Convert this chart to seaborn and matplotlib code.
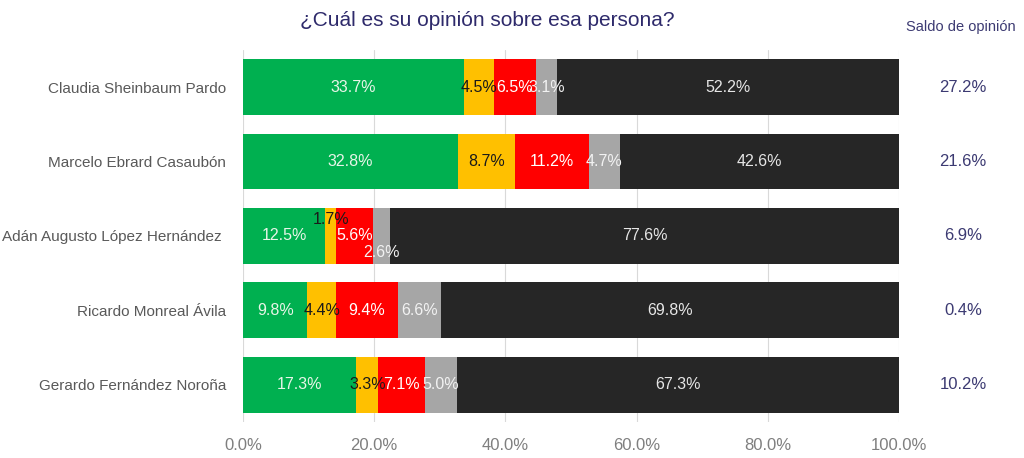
import matplotlib
matplotlib.use("Agg")
import matplotlib.pyplot as plt
import matplotlib.transforms as mtransforms
import seaborn as sns
import pandas as pd
import numpy as np

candidates = ["Claudia Sheinbaum Pardo", "Marcelo Ebrard Casaubón",
              "Adán Augusto López Hernández ", "Ricardo Monreal Ávila",
              "Gerardo Fernández Noroña"]
seg_green = [33.7, 32.8, 12.5, 9.8, 17.3]
seg_yellow = [4.5, 8.7, 1.7, 4.4, 3.3]
seg_red = [6.5, 11.2, 5.6, 9.4, 7.1]
seg_gray = [3.1, 4.7, 2.6, 6.6, 5.0]
seg_black = [52.2, 42.6, 77.6, 69.8, 67.3]
saldo = [27.2, 21.6, 6.9, 0.4, 10.2]
xticks = [0, 20, 40, 60, 80, 100]

segments = [seg_green, seg_yellow, seg_red, seg_gray, seg_black]
colors = ["#00B050", "#FFC000", "#FF0000", "#A6A6A6", "#262626"]
text_colors = ["#E8F5E8", "#1A1A1A", "#FFFFFF", "#F2F2F2", "#E6E6E6"]

sns.set_theme(style="white")
plt.rcParams['font.family'] = ['Liberation Sans', 'DejaVu Sans']

fig = plt.figure(figsize=(10.24, 4.58), dpi=100)
ax = fig.add_axes([0.2373, 0.079, 0.6406, 0.812])

vals = np.array(segments)  # shape (5 segments, n candidates)
cum = np.cumsum(vals, axis=0)

# draw cumulative bars from longest to shortest so they stack
for i in range(len(segments) - 1, -1, -1):
    df = pd.DataFrame({"cand": candidates, "val": cum[i]})
    sns.barplot(data=df, x="val", y="cand", orient="h", color=colors[i],
                saturation=1, width=0.75, ax=ax, zorder=2, linewidth=0)

# labels
offsets = {(2, 1): -16, (2, 3): 17}
for i in range(len(segments)):
    for j in range(len(candidates)):
        v = vals[i, j]
        center = cum[i, j] - v / 2
        dy = offsets.get((j, i), 0)
        ax.annotate(f"{v:.1f}%", xy=(center, j), xytext=(0, -dy),
                    textcoords="offset pixels", ha="center", va="center",
                    fontsize=11.5, color=text_colors[i], zorder=5)

ax.set_xlim(0, 100)
ax.set_ylim(len(candidates) - 0.5, -0.5)
ax.set_xticks(xticks)
ax.set_xticklabels([f"{t:.1f}%" for t in xticks])
ax.grid(axis="x", color="#D9D9D9", linewidth=0.8, zorder=0)
ax.set_axisbelow(True)
for s in ax.spines.values():
    s.set_visible(False)
ax.tick_params(axis="x", length=0, pad=12, labelsize=12, labelcolor="#7F7F7F")
ax.tick_params(axis="y", length=0, pad=12, labelsize=11, labelcolor="#595959")
ax.set_xlabel("")
ax.set_ylabel("")

# Saldo column
trans = mtransforms.blended_transform_factory(fig.transFigure, ax.transData)
for j, s in enumerate(saldo):
    ax.text(963 / 1024, j, f"{s:.1f}%", transform=trans, ha="center",
            va="center", fontsize=12, color="#3C3A72")
fig.text(961 / 1024, 1 - 27 / 458, "Saldo de opinión", ha="center",
         va="center", fontsize=10.5, color="#3C3A72")

fig.text(487 / 1024, 1 - 20 / 458, "¿Cuál es su opinión sobre esa persona?",
         ha="center", va="center", fontsize=15, color="#2E2A6B")

fig.savefig("out.png", dpi=100)
